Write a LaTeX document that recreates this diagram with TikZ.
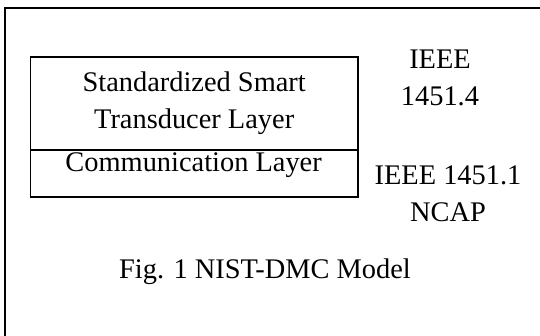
\documentclass[tikz,border=0pt]{standalone}
\usepackage{fontspec}
\setmainfont{Liberation Serif}

\begin{document}
\begin{tikzpicture}[transform shape, scale=1.0]
\tikzset{frame/.style={line width=1.4pt},
layer/.style={line width=1.1pt},
label/.style={align=center, inner sep=0pt,
font=\fontsize{20.2}{26.3}\selectfont},
}
\useasboundingbox (0,0) rectangle (13.5,8.4);
\clip (0,0) rectangle (13.5,8.4);

\draw[frame] (0.13, -0.5) -- (0.13, 8.19) -- (14, 8.19);
\draw[layer] (0.76, 3.48) rectangle (8.95, 6.98);
\draw[layer] (0.76, 4.65) -- (8.95, 4.65);

\node[label] (sstl) at (4.855, 5.815) {Standardized Smart\\Transducer Layer};
\node[label, anchor=north] (comm) at (4.84, 4.59) {Communication Layer};
\node[label] (ieee4) at (11.0, 6.456) {IEEE\\1451.4};
\node[label] (ncap) at (11.2, 3.544) {IEEE 1451.1\\NCAP};
\node[label] (caption) at (6.625, 1.61) {Fig. 1 NIST-DMC Model};
\end{tikzpicture}
\end{document}
